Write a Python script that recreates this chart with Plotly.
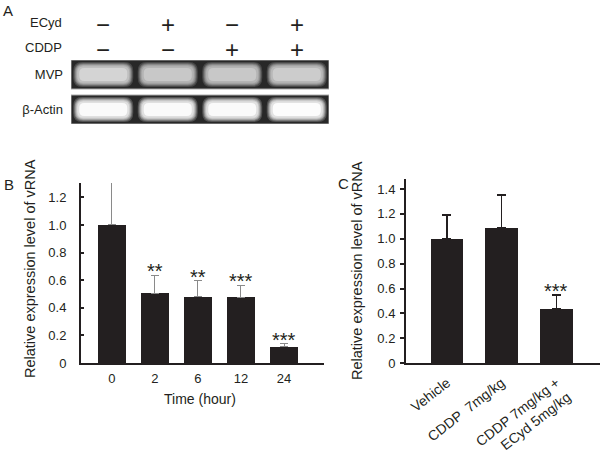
import plotly.graph_objects as go

W, H = 600, 453
FONT = "Liberation Sans, Arial, sans-serif"
INK = "#231f20"

# Panel A - RT-PCR gel
lanes = [0, 1, 2, 3]
ecyd = ["\u2212", "+", "\u2212", "+"]
cddp = ["\u2212", "\u2212", "+", "+"]
gel_rows = ["MVP", "\u03b2-Actin"]
band_brightness = {
    "MVP": [212, 200, 200, 204],
    "\u03b2-Actin": [250, 250, 250, 252],
}

# Panel B - time course
hours = ["0", "2", "6", "12", "24"]
vrna_time = [1.0, 0.505, 0.48, 0.476, 0.118]
vrna_time_err = [0.31, 0.13, 0.116, 0.087, 0.02]
sig_time = ["", "**", "**", "***", "***"]

# Panel C - in vivo treatment
groups = ["Vehicle", "CDDP  7mg/kg", "CDDP 7mg/kg +<br>ECyd 5mg/kg"]
vrna_treat = [1.0, 1.09, 0.436]
vrna_treat_err = [0.19, 0.26, 0.113]
sig_treat = ["", "", "***"]


def px_x(p):
    return p / W


def px_y(p):
    return 1 - p / H


def rounded_rect(xc, yc, hw, hh, rx, ry):
    x0, x1, y0, y1 = xc - hw, xc + hw, yc - hh, yc + hh
    return (f"M {x0 + rx},{y0} L {x1 - rx},{y0} Q {x1},{y0} {x1},{y0 + ry} "
            f"L {x1},{y1 - ry} Q {x1},{y1} {x1 - rx},{y1} L {x0 + rx},{y1} "
            f"Q {x0},{y1} {x0},{y1 - ry} L {x0},{y0 + ry} Q {x0},{y0} {x0 + rx},{y0} Z")


def text_at(x, y, text, size, xref="paper", yref="paper", xanchor="center",
            yanchor="middle", **kw):
    return dict(x=x, y=y, xref=xref, yref=yref, text=text, showarrow=False,
                xanchor=xanchor, yanchor=yanchor,
                font=dict(size=size, color=INK, family=FONT), **kw)


fig = go.Figure()

# ---- panel B bars
fig.add_trace(go.Bar(
    x=hours, y=vrna_time, width=0.65,
    marker=dict(color=INK, line=dict(width=0)),
    error_y=dict(type="data", array=vrna_time_err, arrayminus=[0] * len(hours),
                 symmetric=False, color="#8a8a8a", thickness=1, width=4),
    xaxis="x", yaxis="y", showlegend=False,
))

# ---- panel C bars
fig.add_trace(go.Bar(
    x=groups, y=vrna_treat, width=0.6,
    marker=dict(color=INK, line=dict(width=0)),
    error_y=dict(type="data", array=vrna_treat_err, arrayminus=[0] * len(groups),
                 symmetric=False, color=INK, thickness=1.5, width=4.5),
    xaxis="x2", yaxis="y2", showlegend=False,
))

# ---- panel A gel (shapes on its own axes)
fig.add_trace(go.Scatter(x=lanes, y=[0] * len(lanes), mode="markers",
                         marker=dict(opacity=0), xaxis="x3", yaxis="y3",
                         showlegend=False, hoverinfo="skip"))

LANE_PX, ROW_PX = 64.5, 35.0
shapes = []
bg = 40
for r, row in enumerate(gel_rows):
    shapes.append(dict(type="rect", xref="x3", yref="y3", x0=-0.5, x1=3.5,
                       y0=r - 0.415, y1=r + 0.415, fillcolor="#282828",
                       line=dict(color="#b0b0b0", width=1), layer="below"))
    # soft glow: (half width px, half height px, corner px, brightness fraction)
    steps = [(30, 12.5, 9, 0.2), (29, 11.5, 9, 0.4), (28, 10.5, 8, 0.6),
             (27, 9.5, 7, 0.76), (26, 8.3, 6, 0.88), (24, 6.5, 5, 1.0)]
    for i, v in zip(lanes, band_brightness[row]):
        for hw, hh, rad, f in steps:
            c = int(bg + (v - bg) * f)
            shapes.append(dict(type="path", xref="x3", yref="y3",
                               path=rounded_rect(i, r, hw / LANE_PX, hh / ROW_PX,
                                                 rad / LANE_PX, rad / ROW_PX),
                               fillcolor=f"rgb({c},{c},{c})", line=dict(width=0),
                               layer="below"))

annotations = []
for i, (e, c) in enumerate(zip(ecyd, cddp)):
    annotations.append(text_at(i, px_y(25), e, 24, xref="x3"))
    annotations.append(text_at(i, px_y(49), c, 24, xref="x3"))
for label, yp in [("ECyd", 22), ("CDDP", 48)]:
    annotations.append(text_at(px_x(64), px_y(yp), label, 13, xanchor="right"))

# significance stars (category index positions)
for i, (v, e, s) in enumerate(zip(vrna_time, vrna_time_err, sig_time)):
    if s:
        annotations.append(text_at(i, v + e, s, 20, xref="x", yref="y",
                                   yanchor="bottom", yshift=-9))
for i, (v, e, s) in enumerate(zip(vrna_treat, vrna_treat_err, sig_treat)):
    if s:
        annotations.append(text_at(i, v + e, s, 20, xref="x2", yref="y2",
                                   yanchor="bottom", yshift=-9))

# panel letters and axis titles
for letter, xp, yp in [("A", 1, 0), ("B", 2, 174), ("C", 336, 173)]:
    annotations.append(text_at(px_x(xp), px_y(yp), letter, 15,
                               xanchor="left", yanchor="top"))
annotations.append(text_at(px_x(30), px_y(269), "Relative expression level of vRNA",
                           14.5, textangle=-90))
annotations.append(text_at(px_x(357), px_y(271), "Relative expression level of vRNA",
                           14.5, textangle=-90))
annotations.append(text_at(px_x(200), px_y(399), "Time (hour)", 14))

tickfont = dict(size=13, color=INK, family=FONT)
b_ticks = [0, 0.2, 0.4, 0.6, 0.8, 1.0, 1.2]
c_ticks = [0, 0.2, 0.4, 0.6, 0.8, 1.0, 1.2, 1.4]

fig.update_layout(
    template="none",
    width=W, height=H,
    margin=dict(l=0, r=0, t=0, b=0, pad=0, autoexpand=False),
    paper_bgcolor="white", plot_bgcolor="rgba(0,0,0,0)",
    font=dict(family=FONT, color=INK),
    bargap=0,
    xaxis=dict(domain=[px_x(81), px_x(324)], range=[-0.72, 4.93], type="category",
               showline=True, linecolor=INK, linewidth=2, ticks="", showgrid=False,
               tickfont=tickfont, ticklabelstandoff=2, anchor="y", zeroline=False,
               automargin=False),
    yaxis=dict(domain=[px_y(363), px_y(183)], range=[0, 1.304], showline=True,
               linecolor=INK, linewidth=2, ticks="inside", ticklen=3, tickwidth=1.5,
               tickcolor=INK, tickvals=b_ticks,
               ticktext=["0" if t == 0 else f"{t:.1f}" for t in b_ticks],
               showgrid=False, zeroline=False, tickfont=tickfont,
               ticklabelstandoff=10, anchor="x", automargin=False),
    xaxis2=dict(domain=[px_x(406), 1.0], range=[-0.75, 2.8], type="category",
                showline=True, linecolor=INK, linewidth=2, ticks="", showgrid=False,
                tickfont=dict(size=14, color=INK, family=FONT), tickangle=-38,
                ticklabelstandoff=4, anchor="y2", zeroline=False, automargin=False),
    yaxis2=dict(domain=[px_y(363.3), px_y(179)], range=[0, 1.48], showline=True,
                linecolor=INK, linewidth=2, ticks="outside", ticklen=4, tickwidth=1.5,
                tickcolor=INK, tickvals=c_ticks,
                ticktext=["0" if t == 0 else f"{t:.1f}" for t in c_ticks],
                showgrid=False, zeroline=False, tickfont=tickfont,
                ticklabelstandoff=2, anchor="x2", automargin=False),
    xaxis3=dict(domain=[px_x(71), px_x(329)], range=[-0.5, 3.5], visible=False,
                anchor="y3", automargin=False),
    yaxis3=dict(domain=[px_y(124), px_y(60)], range=[1.414, -0.414],
                tickvals=[0, 1], ticktext=gel_rows, ticks="", showline=False,
                showgrid=False, zeroline=False, tickfont=tickfont,
                ticklabelstandoff=7, anchor="x3", automargin=False),
    shapes=shapes,
    annotations=annotations,
)

# drop the default page margin so the figure sits at the window origin
fig.write_html("out.html", config={"displayModeBar": False},
               post_script="document.body.style.margin='0';"
                           "document.body.style.overflow='hidden';")
